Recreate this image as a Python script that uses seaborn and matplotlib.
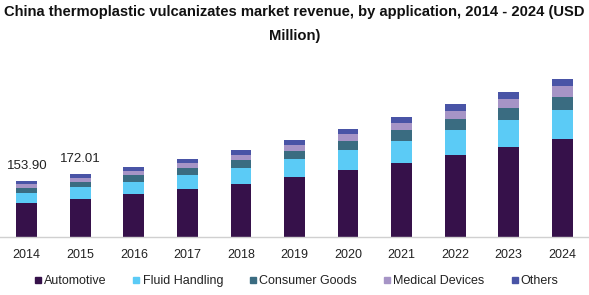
import numpy as np
import pandas as pd
import matplotlib
matplotlib.use("Agg")
import matplotlib.pyplot as plt
from matplotlib.lines import Line2D
import seaborn as sns

years = ["2014", "2015", "2016", "2017", "2018", "2019", "2020", "2021", "2022", "2023", "2024"]
automotive = [94.3, 104.5, 118.9, 132.6, 146.3, 165.5, 184.7, 204.0, 225.9, 247.9, 269.8]
fluid_handling = [27.5, 32.6, 32.9, 38.4, 43.9, 49.4, 54.9, 60.4, 68.6, 74.1, 79.6]
consumer_goods = [13.7, 13.5, 19.2, 19.2, 22.0, 22.0, 24.7, 30.2, 30.2, 32.9, 35.7]
medical_devices = [11.0, 11.0, 11.0, 12.9, 13.7, 16.5, 19.2, 19.2, 22.0, 24.7, 30.2]
others = [7.4, 10.41, 11.0, 11.0, 12.9, 12.9, 12.9, 15.6, 19.2, 19.2, 19.2]
labels_2014_2015 = ["153.90", "172.01"]

series_names = ["Automotive", "Fluid Handling", "Consumer Goods", "Medical Devices", "Others"]
colors = ["#36114A", "#5BCBF6", "#3A6C81", "#A694C6", "#4954A6"]
series = [automotive, fluid_handling, consumer_goods, medical_devices, others]

sns.set_theme(style="white")
plt.rcParams["font.family"] = ["Liberation Sans", "DejaVu Sans"]

fig = plt.figure(figsize=(5.89, 2.95), dpi=100)
ax = fig.add_axes([0.0, 1 - 237 / 295, 1.0, 0.6])

cum = np.cumsum(np.array(series), axis=0)
for i in range(len(series) - 1, -1, -1):
    df = pd.DataFrame({"year": years, "value": cum[i]})
    sns.barplot(data=df, x="year", y="value", color=colors[i], width=0.39,
                saturation=1, ax=ax, linewidth=0, errorbar=None)

totals = cum[-1]
for i, lab in enumerate(labels_2014_2015):
    ax.text(i, totals[i] + 42, lab, ha="center", va="center", fontsize=9.5, color="#222222")

ax.set_xlim(-0.5, 10.5)
ax.set_ylim(0, 0.6 * 295 * 2.745)
ax.set_xlabel("")
ax.set_ylabel("")
ax.set_yticks([])
for s in ["top", "left", "right"]:
    ax.spines[s].set_visible(False)
ax.spines["bottom"].set_color("#d0d0d0")
ax.spines["bottom"].set_linewidth(1)
ax.tick_params(axis="x", length=0, labelsize=9, pad=9, colors="#222222")

fig.text(0.5, 1 - 12 / 295, "China thermoplastic vulcanizates market revenue, by application, 2014 - 2024 (USD",
         ha="center", va="center", fontsize=10.6, fontweight="bold", color="#111111")
fig.text(0.5, 1 - 36 / 295, "Million)", ha="center", va="center", fontsize=10.6,
         fontweight="bold", color="#111111")

handles = [Line2D([0], [0], marker="s", linestyle="", markersize=5, markerfacecolor=c,
                  markeredgecolor=c) for c in colors]
fig.legend(handles, series_names, loc="center", bbox_to_anchor=(0.503, 1 - 281 / 295), ncol=5,
           frameon=False, fontsize=9, handlelength=0.6, handletextpad=0.2, columnspacing=2.1,
           labelcolor="#222222")

fig.savefig("out.png", dpi=100)
